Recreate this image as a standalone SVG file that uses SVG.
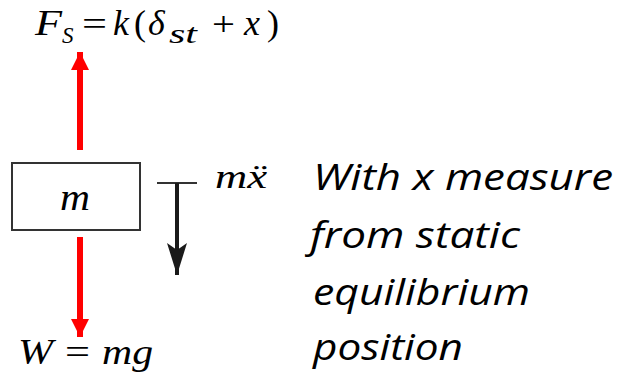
<svg xmlns="http://www.w3.org/2000/svg" width="620" height="373" viewBox="0 0 620 373">
<style>
.m{font-family:"Liberation Serif","DejaVu Serif",serif;font-style:italic;fill:#000}
.u{font-family:"Liberation Serif","DejaVu Serif",serif;font-style:normal;fill:#000}
.t{font-family:"Open Sans","Liberation Sans",sans-serif;font-style:italic;font-size:37px;fill:#000}
</style>
<defs>
<marker id="rh" viewBox="0 0 18 18" refX="18" refY="9" markerWidth="18" markerHeight="18" markerUnits="userSpaceOnUse" orient="auto"><path d="M0,0 L18,9 L0,18 Z" fill="#ff0000"/></marker>
<marker id="bh" viewBox="0 0 32 20" refX="32" refY="10" markerWidth="32" markerHeight="20" markerUnits="userSpaceOnUse" orient="auto"><path d="M0,0 L32,10 L0,20 L7,10 Z" fill="#1a1a1a"/></marker>
</defs>
<g id="mass">
<rect x="12" y="163" width="128" height="67" fill="#fff" stroke="#333" stroke-width="2"/>
<text class="m" x="60" y="210" font-size="38" textLength="30" lengthAdjust="spacingAndGlyphs">m</text>
</g>
<g id="connectors">
<line x1="80" y1="150" x2="80" y2="52" stroke="#ff0000" stroke-width="6" marker-end="url(#rh)"/>
<line x1="80" y1="237" x2="80" y2="337" stroke="#ff0000" stroke-width="6" marker-end="url(#rh)"/>
<line x1="157" y1="183" x2="197" y2="183" stroke="#333" stroke-width="2"/>
<line x1="177" y1="183" x2="177" y2="275" stroke="#1a1a1a" stroke-width="4" marker-end="url(#bh)"/>
</g>
<g id="fs-label">
<text class="m" x="35" y="35" font-size="36" textLength="27" lengthAdjust="spacingAndGlyphs">F</text>
<text class="m" x="62" y="43" font-size="23">S</text>
<text class="u" x="82" y="35" font-size="34" textLength="25" lengthAdjust="spacingAndGlyphs">=</text>
<text class="m" x="113" y="35" font-size="36">k</text>
<text class="u" x="134" y="35" font-size="36">(</text>
<text class="m" x="148" y="35" font-size="36">δ</text>
<text class="m" x="169" y="43" font-size="27" textLength="28" lengthAdjust="spacingAndGlyphs">st</text>
<text class="u" x="212" y="35" font-size="34" textLength="23" lengthAdjust="spacingAndGlyphs">+</text>
<text class="m" x="244" y="35" font-size="36">x</text>
<text class="u" x="267" y="35" font-size="36">)</text>
</g>
<g id="w-label" font-size="36">
<text class="m" x="18" y="364" textLength="35" lengthAdjust="spacingAndGlyphs">W</text>
<text class="u" x="65" y="364" textLength="25" lengthAdjust="spacingAndGlyphs">=</text>
<text class="m" x="102" y="364" textLength="51" lengthAdjust="spacingAndGlyphs">mg</text>
</g>
<g id="accel-label">
<text class="m" x="215" y="188" font-size="34" textLength="52" lengthAdjust="spacingAndGlyphs">mẍ</text>
</g>
<g id="note">
<text class="t" x="313" y="190" textLength="300" lengthAdjust="spacingAndGlyphs">With x measure</text>
<text class="t" x="310" y="248" textLength="210" lengthAdjust="spacingAndGlyphs">from static</text>
<text class="t" x="313" y="305" textLength="217" lengthAdjust="spacingAndGlyphs">equilibrium</text>
<text class="t" x="313" y="360" textLength="150" lengthAdjust="spacingAndGlyphs">position</text>
</g>
</svg>
